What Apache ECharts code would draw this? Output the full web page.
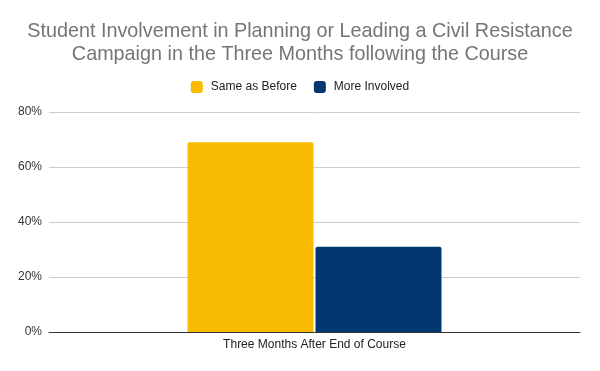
<!DOCTYPE html>
<html>
<head>
<meta charset="utf-8">
<script src="https://cdn.jsdelivr.net/npm/echarts@6/dist/echarts.min.js"></script>
<style>html,body{margin:0;padding:0;background:#fff}#c{width:600px;height:371px}</style>
</head>
<body>
<div id="c"></div>
<script>
const categories = ["Three Months After End of Course"];
const seriesNames = ["Same as Before", "More Involved"];
const sameAsBefore = [69];
const moreInvolved = [31];
const yTicks = [0, 20, 40, 60, 80];
const colors = ["#f9bb02", "#02376f"];

const chart = echarts.init(document.getElementById('c'), null, {renderer: 'canvas'});
const font = "Liberation Sans, Arial, sans-serif";
chart.setOption({
  animation: false,
  textStyle: {fontFamily: font},
  title: {
    text: "Student Involvement in Planning or Leading a Civil Resistance\nCampaign in the Three Months following the Course",
    left: 'center', top: 15,
    textStyle: {fontFamily: font, fontSize: 19.8, fontWeight: 'normal', color: '#757575', lineHeight: 23}
  },
  legend: {
    top: 76, left: 'center',
    itemWidth: 12, itemHeight: 12, itemGap: 17,
    icon: 'roundRect',
    textStyle: {fontFamily: font, fontSize: 12, color: '#222', padding: [0, 0, 0, 3]},
    data: seriesNames
  },
  grid: {left: 49, right: 20, top: 112, bottom: 39, containLabel: false},
  xAxis: {
    type: 'category', data: categories,
    axisLine: {lineStyle: {color: '#333', width: 1}},
    axisTick: {show: false},
    axisLabel: {fontFamily: font, fontSize: 12, color: '#222', margin: 7}
  },
  yAxis: {
    type: 'value', min: yTicks[0], max: yTicks[yTicks.length-1], interval: 20,
    axisLabel: {formatter: v => v + '%', fontFamily: font, fontSize: 12, color: '#333', margin: 7},
    axisLine: {show: false}, axisTick: {show: false},
    splitLine: {lineStyle: {color: '#ccc'}}
  },
  series: [
    {name: seriesNames[0], type: 'bar', data: sameAsBefore, barWidth: 126, barGap: '1.6%',
     itemStyle: {color: colors[0], borderRadius: [2,2,0,0]}},
    {name: seriesNames[1], type: 'bar', data: moreInvolved, barWidth: 126,
     itemStyle: {color: colors[1], borderRadius: [2,2,0,0]}}
  ]
});
</script>
</body>
</html>
